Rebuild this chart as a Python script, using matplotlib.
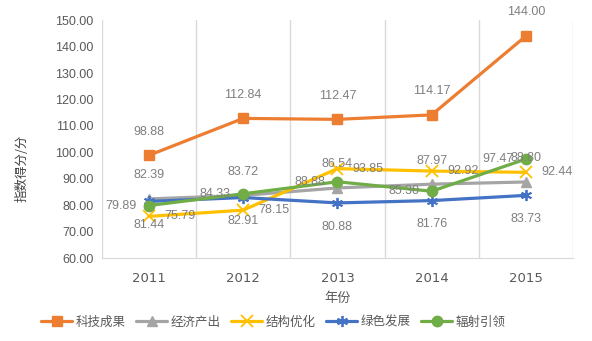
import matplotlib
matplotlib.use("Agg")
import matplotlib.pyplot as plt

plt.rcParams['font.family'] = ['Liberation Sans', 'Noto Sans CJK SC', 'DejaVu Sans']

years = ['2011', '2012', '2013', '2014', '2015']
series_names = ['科技成果', '经济产出', '结构优化', '绿色发展', '辐射引领']
keji = [98.88, 112.84, 112.47, 114.17, 144.00]
jingji = [82.39, 83.72, 86.54, 87.97, 88.80]
jiegou = [75.79, 78.15, 93.85, 92.92, 92.44]
lvse = [81.44, 82.91, 80.88, 81.76, 83.73]
fushe = [79.89, 84.33, 88.88, 85.30, 97.47]
yticks = [60, 70, 80, 90, 100, 110, 120, 130, 140, 150]

data = [keji, jingji, jiegou, lvse, fushe]
colors = ['#ED7D31', '#A5A5A5', '#FFC000', '#4472C4', '#70AD47']
markers = ['s', '^', 'x', (6, 2, 0), 'o']
msizes = [7, 7, 8, 8, 7.5]
label_pos = ['above', 'above', 'right', 'below', 'left']

fig = plt.figure(figsize=(5.92, 3.41), dpi=100)
ax = fig.add_axes([0.172, 0.243, 0.796, 0.698])

x = list(range(len(years)))
for name, vals, c, m, ms in zip(series_names, data, colors, markers, msizes):
    mew = 1.3 if m in ('x', (6, 2, 0)) else 1
    ax.plot(x, vals, color=c, lw=2.3, marker=m, ms=ms, mew=mew, label=name,
            solid_capstyle='round')

lab_color = '#7F7F7F'
for vals, pos in zip(data, label_pos):
    for xi, v in zip(x, vals):
        if pos == 'above':
            off, ha, va = (0, 17), 'center', 'center'
        elif pos == 'below':
            off, ha, va = (0, -17), 'center', 'center'
        elif pos == 'right':
            off, ha, va = (11, 0), 'left', 'center'
        else:
            off, ha, va = (-9, 0), 'right', 'center'
        ax.annotate(f'{v:.2f}', (xi, v), xytext=off, textcoords='offset points',
                    ha=ha, va=va, fontsize=9, color=lab_color)

ax.set_xlim(-0.5, len(years) - 0.5)
ax.set_ylim(60, 150)
ax.set_yticks(yticks)
ax.set_yticklabels([f'{t:.2f}' for t in yticks], fontsize=9, color='#595959')
ax.set_xticks(x)
ax.set_xticklabels(years, fontsize=9.5, color='#595959', family='DejaVu Sans')
ax.tick_params(length=0)
ax.tick_params(axis='x', pad=10)
ax.tick_params(axis='y', pad=6)

for b in [i - 0.5 for i in range(len(years) + 1)]:
    ax.axvline(b, color='#D9D9D9', lw=1, zorder=0)
for s in ['top', 'right', 'left']:
    ax.spines[s].set_visible(False)
ax.spines['bottom'].set_color('#D9D9D9')

ax.set_xlabel('年份', fontsize=9.5, color='#595959', family=['Noto Sans CJK SC'], labelpad=5)
ax.set_ylabel('指数得分/分', fontsize=9, color='#404040', family=['Noto Sans CJK SC'])
ax.yaxis.set_label_coords(-0.155, 0.378)

leg = fig.legend(loc='center', bbox_to_anchor=(0.462, 0.055), ncol=5, frameon=False,
                 prop={'family': 'Noto Sans CJK SC', 'size': 9}, handlelength=2.5,
                 columnspacing=0.8, handletextpad=0.3)
for t in leg.get_texts():
    t.set_color('#595959')

fig.savefig('out.png', dpi=100)
